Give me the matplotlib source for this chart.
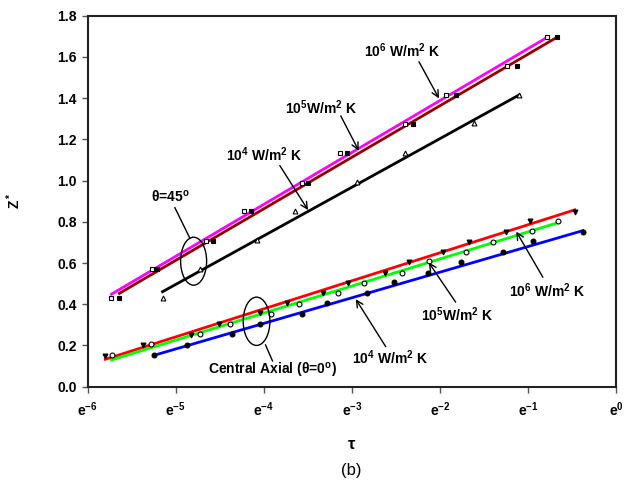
import numpy as np
import matplotlib
matplotlib.use("Agg")
import matplotlib.pyplot as plt
from matplotlib.patches import Ellipse

plt.rcParams['font.family'] = ['Liberation Sans', 'DejaVu Sans']
plt.rcParams['mathtext.fontset'] = 'custom'
plt.rcParams['mathtext.rm'] = 'Liberation Sans'
plt.rcParams['mathtext.bf'] = 'Liberation Sans:bold'
plt.rcParams['mathtext.it'] = 'Liberation Sans:italic'
plt.rcParams['mathtext.default'] = 'bf'

# ---- data: x values are ln(tau) ----
# theta = 45 deg
sq_open_ln = [-5.73, -5.27, -4.66, -4.22, -3.57, -3.13, -2.40, -1.93, -1.24, -0.78]
sq_open_z = [0.429, 0.570, 0.709, 0.851, 0.990, 1.133, 1.275, 1.416, 1.558, 1.699]
sq_fill_ln = [-5.64, -5.21, -4.58, -4.15, -3.50, -3.06, -2.31, -1.82, -1.13, -0.67]
sq_fill_z = [0.429, 0.570, 0.709, 0.851, 0.990, 1.133, 1.275, 1.416, 1.558, 1.699]
tri_ln = [-5.15, -4.73, -4.08, -3.65, -2.94, -2.40, -1.61, -1.10]
tri_z = [0.430, 0.573, 0.712, 0.851, 0.995, 1.134, 1.277, 1.417]

# central axial (theta = 0)
dtri_ln = [-5.80, -5.37, -4.83, -4.51, -4.04, -3.74, -3.33, -3.05, -2.63, -2.35,
           -1.97, -1.67, -1.25, -0.98, -0.47]
dtri_z = [0.150, 0.202, 0.251, 0.304, 0.356, 0.405, 0.453, 0.502, 0.553, 0.604,
          0.655, 0.704, 0.752, 0.803, 0.850]
circ_open_ln = [-5.72, -5.28, -4.73, -4.39, -3.92, -3.60, -3.16, -2.86, -2.43, -2.13,
                -1.70, -1.40, -0.96, -0.66]
circ_open_z = [0.154, 0.206, 0.254, 0.304, 0.353, 0.401, 0.453, 0.505, 0.553, 0.609,
               0.654, 0.704, 0.754, 0.803]
circ_fill_ln = [-5.25, -4.87, -4.36, -4.04, -3.57, -3.28, -2.83, -2.52, -2.14, -1.76,
                -1.28, -0.95, -0.38]
circ_fill_z = [0.152, 0.204, 0.254, 0.304, 0.351, 0.405, 0.453, 0.507, 0.553, 0.605,
               0.654, 0.706, 0.752]

# fitted lines (start / end)
fit_ln = {
    'mag': [-5.73, -0.78], 'brown': [-5.64, -0.67], 'black': [-5.15, -1.10],
    'red': [-5.80, -0.47], 'green': [-5.73, -0.66], 'blue': [-5.25, -0.38],
}
fit_z = {
    'mag': [0.449, 1.696], 'brown': [0.453, 1.696], 'black': [0.461, 1.416],
    'red': [0.133, 0.858], 'green': [0.130, 0.796], 'blue': [0.152, 0.757],
}
fit_color = {'mag': '#ff00ff', 'brown': '#990000', 'black': 'black',
             'red': '#ff0000', 'green': '#00ff00', 'blue': '#0000ff'}

x_ticks_ln = [-6, -5, -4, -3, -2, -1, 0]
y_ticks = [0.0, 0.2, 0.4, 0.6, 0.8, 1.0, 1.2, 1.4, 1.6, 1.8]

fig = plt.figure(figsize=(6.35, 4.93), dpi=100)
ax = fig.add_axes([87.7 / 635, 1 - 386.7 / 493, 528.5 / 635, 371 / 493])
ax.set_xscale('log', base=np.e)

for k in fit_ln:
    ax.plot(np.exp(fit_ln[k]), fit_z[k], color=fit_color[k], lw=2, zorder=2)

mk = dict(ms=3.5, mew=0.8, ls='none', zorder=3)
ax.plot(np.exp(sq_open_ln), sq_open_z, 's', mfc='white', mec='black', **mk)
ax.plot(np.exp(sq_fill_ln), sq_fill_z, 's', mfc='black', mec='black', **mk)
ax.plot(np.exp(tri_ln), tri_z, '^', mfc='white', mec='black', **mk)
ax.plot(np.exp(dtri_ln), dtri_z, 'v', mfc='black', mec='black', **mk)
ax.plot(np.exp(circ_open_ln), circ_open_z, 'o', mfc='white', mec='black', **mk)
ax.plot(np.exp(circ_fill_ln), circ_fill_z, 'o', mfc='black', mec='black', **mk)

ax.set_xlim(np.exp(-6), 1)
ax.set_ylim(0, 1.8)
ax.set_xticks(np.exp(x_ticks_ln))
ax.set_xticklabels([f'$e^{{{k}}}$' for k in x_ticks_ln])
ax.minorticks_off()
ax.set_yticks(y_ticks)
ax.set_yticklabels([f'{v:.1f}' for v in y_ticks], fontweight='bold')
ax.tick_params(direction='out', length=4, width=1, labelsize=10, pad=4, color='#555555')
ax.tick_params(axis='x', pad=6)
for s in ax.spines.values():
    s.set_linewidth(1.5)
    s.set_color('#222222')

ax.set_ylabel('Z$^*$', fontsize=10, fontweight='bold')
ax.yaxis.set_label_coords(-0.123, 0.5)
ax.set_xlabel('τ', fontsize=12, fontweight='bold')
ax.xaxis.set_label_coords(0.5, -0.135)
fig.text(351 / 635, 1 - 470 / 493, '(b)', ha='center', va='center', fontsize=12)

# annotations (axes fraction)
lbl = dict(fontsize=10, fontweight='bold', ha='center', va='center',
           transform=ax.transAxes)
arr = dict(arrowstyle='->', color='black', lw=1, mutation_scale=12,
           shrinkA=0, shrinkB=0)
notes = [
    ('$10^6$ W/m$^2$ K', (0.5941, 0.905), (0.6268, 0.876), (0.6647, 0.777)),
    ('$10^5$W/m$^2$ K', (0.4410, 0.753), (0.4788, 0.730), (0.5129, 0.636)),
    ('$10^4$ W/m$^2$ K', (0.3342, 0.625), (0.3635, 0.596), (0.4170, 0.476)),
    ('$10^6$ W/m$^2$ K', (0.8692, 0.259), (0.8613, 0.295), (0.8110, 0.418)),
    ('$10^5$W/m$^2$ K', (0.6991, 0.193), (0.6962, 0.228), (0.6452, 0.335)),
    ('$10^4$ W/m$^2$ K', (0.5730, 0.077), (0.5639, 0.108), (0.5072, 0.236)),
]
for txt, pos, tail, tip in notes:
    ax.text(pos[0], pos[1], txt, **lbl)
    ax.annotate('', xy=tip, xytext=tail, xycoords='axes fraction',
                textcoords='axes fraction', arrowprops=arr)

ax.text(0.1556, 0.513, 'θ=45$^o$', **lbl)
ax.plot([0.165, 0.1934], [0.4825, 0.400], color='black', lw=1, transform=ax.transAxes)
ax.add_patch(Ellipse((0.2004, 0.3383), 26 / 528.5, 48 / 371, transform=ax.transAxes,
                     fill=False, lw=1, ec='black', zorder=4))

ax.text(0.3503, 0.043, 'Central Axial (θ=0$^o$)', **lbl)
ax.plot([0.3365, 0.3497], [0.1124, 0.0693], color='black', lw=1, transform=ax.transAxes)
ax.add_patch(Ellipse((0.3195, 0.1763), 26.7 / 528.5, 48.3 / 371, transform=ax.transAxes,
                     fill=False, lw=1, ec='black', zorder=4))

fig.savefig('out.png', dpi=100)
